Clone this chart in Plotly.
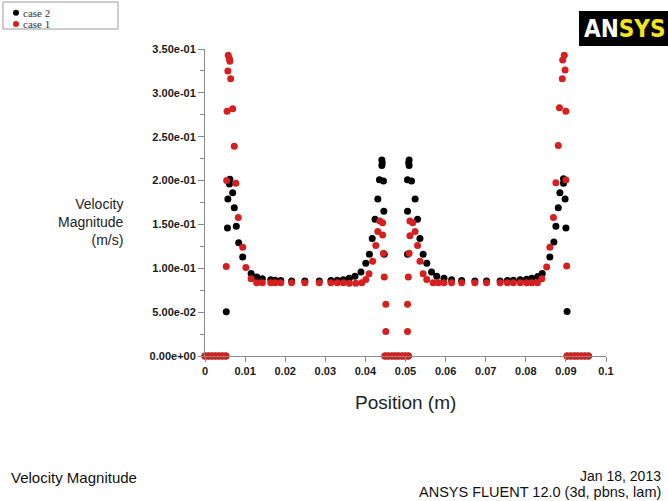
import plotly.graph_objects as go

# ---------------- data ----------------
# case 1 (red)
case1_x = [
    0.0, 0.00087, 0.00173, 0.0026, 0.00347, 0.00433, 0.0052,
    0.0053, 0.0054, 0.0055, 0.0057, 0.0058, 0.0061, 0.0062, 0.0064, 0.0069,
    0.0073, 0.0077, 0.0083, 0.0094, 0.0102, 0.0115, 0.0129, 0.0143,
    0.0164, 0.0175, 0.0189, 0.0216, 0.0249, 0.0285, 0.0314, 0.0330, 0.0345,
    0.0360, 0.0376, 0.0391,
    0.0401, 0.0409, 0.0418, 0.0426, 0.0431, 0.0436, 0.0443, 0.0443, 0.0445,
    0.0447, 0.0451, 0.0451,
    0.0449, 0.0457, 0.0466, 0.0474, 0.0482, 0.0491, 0.0499, 0.0507,
    0.0505, 0.0505, 0.0507, 0.0509, 0.0511, 0.0511, 0.0518, 0.0524, 0.0530,
    0.0536, 0.0544, 0.0553,
    0.0569, 0.0582, 0.0596, 0.0615, 0.0640, 0.0673, 0.0702, 0.0736, 0.0754,
    0.0769, 0.0786, 0.0802, 0.0815, 0.0829,
    0.0840, 0.0852, 0.0860, 0.0869, 0.0875, 0.0881, 0.0884, 0.0891, 0.0892,
    0.0896, 0.0898, 0.0900, 0.0900, 0.0902,
    0.0903, 0.0912, 0.0921, 0.0929, 0.0938, 0.0947, 0.0956,
]
case1_y = [
    0.0, 0.0, 0.0, 0.0, 0.0, 0.0, 0.0,
    0.102, 0.200, 0.279, 0.325, 0.343, 0.339, 0.336, 0.316, 0.282,
    0.239, 0.197, 0.158, 0.124, 0.101, 0.088, 0.0836, 0.0836,
    0.0835, 0.0835, 0.0835, 0.0835, 0.0835, 0.0835, 0.0835, 0.0835, 0.0835,
    0.0830, 0.0830, 0.0835,
    0.0873, 0.0938, 0.108, 0.126, 0.142, 0.154, 0.152, 0.138, 0.117,
    0.090, 0.059, 0.028,
    0.0, 0.0, 0.0, 0.0, 0.0, 0.0, 0.0, 0.0,
    0.028, 0.059, 0.090, 0.117, 0.137, 0.154, 0.152, 0.142, 0.126,
    0.108, 0.0938, 0.0873,
    0.0835, 0.0835, 0.0835, 0.0835, 0.0835, 0.0835, 0.0835, 0.0835, 0.0835,
    0.0835, 0.0835, 0.0835, 0.0835, 0.0836,
    0.088, 0.1015, 0.124, 0.158, 0.1976, 0.240, 0.283, 0.316, 0.3375,
    0.343, 0.326, 0.279, 0.2007, 0.1026,
    0.0, 0.0, 0.0, 0.0, 0.0, 0.0, 0.0,
]

# case 2 (black)
case2_x = [
    0.0, 0.00087, 0.00173, 0.0026, 0.00347, 0.00433, 0.0052,
    0.0053, 0.0056, 0.0057, 0.0061, 0.0062, 0.0069, 0.0073, 0.0078, 0.0084,
    0.0094, 0.0115, 0.0129, 0.0143,
    0.0164, 0.0175, 0.0189, 0.0216, 0.0249, 0.0285, 0.0314, 0.0330, 0.0345,
    0.0360, 0.0374, 0.0389, 0.0401, 0.0410, 0.0417, 0.0424, 0.0431, 0.0435,
    0.0441, 0.0442, 0.0441, 0.0445, 0.0446, 0.0447,
    0.0449, 0.0457, 0.0466, 0.0474, 0.0482, 0.0491, 0.0499, 0.0507,
    0.0509, 0.0508, 0.0509, 0.0505, 0.0515, 0.0524, 0.0505, 0.0530, 0.0536,
    0.0505, 0.0544, 0.0553, 0.0565, 0.0578,
    0.0596, 0.0615, 0.0640, 0.0673, 0.0702, 0.0736, 0.0754, 0.0769, 0.0786,
    0.0802, 0.0815, 0.0830,
    0.0841, 0.0860, 0.0870, 0.0875, 0.0881, 0.0885, 0.0894, 0.0894, 0.0898,
    0.0900, 0.0903,
    0.0903, 0.0912, 0.0921, 0.0929, 0.0938, 0.0947, 0.0956,
]
case2_y = [
    0.0, 0.0, 0.0, 0.0, 0.0, 0.0, 0.0,
    0.0505, 0.146, 0.179, 0.196, 0.2015, 0.186, 0.169, 0.148, 0.129,
    0.113, 0.094, 0.090, 0.088,
    0.087, 0.0865, 0.086, 0.0855, 0.0855, 0.0855, 0.086, 0.0865, 0.087,
    0.0885, 0.091, 0.0957, 0.1056, 0.116, 0.134, 0.156, 0.179, 0.201,
    0.2234, 0.2203, 0.2173, 0.1994, 0.165, 0.116,
    0.0, 0.0, 0.0, 0.0, 0.0, 0.0, 0.0, 0.0,
    0.2234, 0.2203, 0.2173, 0.201, 0.1994, 0.179, 0.165, 0.156, 0.134,
    0.116, 0.116, 0.1056, 0.0957, 0.091,
    0.0885, 0.087, 0.086, 0.0855, 0.0855, 0.0855, 0.086, 0.0865, 0.087,
    0.0875, 0.0886, 0.0905,
    0.094, 0.113, 0.130, 0.148, 0.169, 0.186, 0.202, 0.197, 0.179,
    0.146, 0.0506,
    0.0, 0.0, 0.0, 0.0, 0.0, 0.0, 0.0,
]

series_names = ["case 2", "case 1"]
x_tick_vals = [0, 0.01, 0.02, 0.03, 0.04, 0.05, 0.06, 0.07, 0.08, 0.09, 0.1]
x_tick_text = ["0", "0.01", "0.02", "0.03", "0.04", "0.05", "0.06", "0.07", "0.08", "0.09", "0.1"]
y_tick_vals = [0, 0.05, 0.10, 0.15, 0.20, 0.25, 0.30, 0.35]
y_tick_text = ["0.00e+00", "5.00e-02", "1.00e-01", "1.50e-01", "2.00e-01", "2.50e-01", "3.00e-01", "3.50e-01"]

# ---------------- layout geometry ----------------
W, H = 668, 501
L, R, T, B = 205, 606, 49, 356   # plot area in pixels


def px_x(p):
    return (p - L) / (R - L)


def px_y(p):
    return (B - p) / (B - T)


RED = "#d61f1f"
BLACK = "#000000"
AXIS = "#8a8a8a"
SANS = "Liberation Sans, Arial, sans-serif"
SERIF = "Liberation Serif, Times New Roman, serif"

fig = go.Figure()
fig.add_trace(go.Scatter(x=case2_x, y=case2_y, mode="markers", name=series_names[0],
                         marker=dict(color=BLACK, size=7, line=dict(width=0)),
                         cliponaxis=False, showlegend=False))
fig.add_trace(go.Scatter(x=case1_x, y=case1_y, mode="markers", name=series_names[1],
                         marker=dict(color=RED, size=7, line=dict(width=0)),
                         cliponaxis=False, showlegend=False))

tickfont = dict(family=SANS, size=11, color="#1a1a1a", weight="bold")

fig.update_xaxes(range=[0, 0.1], tickvals=x_tick_vals, ticktext=x_tick_text,
                 showgrid=False, zeroline=False, showline=True, linecolor=AXIS, linewidth=1,
                 ticks="outside", ticklen=5, tickcolor=AXIS, tickfont=tickfont)
fig.update_yaxes(range=[0, 0.35], tickvals=y_tick_vals, ticktext=y_tick_text,
                 showgrid=False, zeroline=False, showline=True, linecolor=AXIS, linewidth=1,
                 ticks="outside", ticklen=6, tickcolor=AXIS, tickfont=tickfont,
                 minor=dict(ticks="outside", ticklen=4, tickcolor=AXIS, dtick=0.025, showgrid=False))

shapes = []
annotations = []

# legend box (manual, top-left)
shapes.append(dict(type="rect", xref="paper", yref="paper",
                   x0=px_x(3), x1=px_x(118), y0=px_y(29), y1=px_y(2),
                   line=dict(color="#9a9a9a", width=1), fillcolor="white", layer="above"))
for name, col, cy in [(series_names[0], BLACK, 12.7), (series_names[1], RED, 24)]:
    shapes.append(dict(type="circle", xref="paper", yref="paper",
                       xsizemode="pixel", ysizemode="pixel",
                       xanchor=px_x(16), yanchor=px_y(cy),
                       x0=-3, x1=3, y0=-3, y1=3,
                       fillcolor=col, line=dict(width=0), layer="above"))
    annotations.append(dict(text=name, xref="paper", yref="paper", x=px_x(22), y=px_y(cy),
                            xanchor="left", yanchor="middle", showarrow=False, borderpad=0,
                            font=dict(family=SERIF, size=11, color="#333333")))

# ANSYS logo (top right)
shapes.append(dict(type="rect", xref="paper", yref="paper",
                   x0=px_x(579), x1=px_x(672), y0=px_y(46), y1=px_y(11),
                   line=dict(width=0), fillcolor="black", layer="above"))
annotations.append(dict(
    text="<b>AN</b><span style='color:#f4e41c'><b>SYS</b></span>",
    xref="paper", yref="paper", x=px_x(582), y=px_y(29), xanchor="left", yanchor="middle",
    showarrow=False, font=dict(family="DejaVu Sans Condensed, Liberation Sans Narrow, sans-serif",
                               size=24, color="white")))

# axis titles
annotations.append(dict(text="Velocity<br>Magnitude<br>(m/s)", xref="paper", yref="paper",
                        x=px_x(126), y=px_y(222), xanchor="right", yanchor="middle", align="right",
                        showarrow=False, font=dict(family=SANS, size=14, color="#222222")))
annotations.append(dict(text="Position (m)", xref="paper", yref="paper",
                        x=px_x(405.5), y=px_y(402), xanchor="center", yanchor="middle",
                        showarrow=False, font=dict(family=SANS, size=19, color="#222222")))

# footer texts
annotations.append(dict(text="Velocity Magnitude", xref="paper", yref="paper",
                        x=px_x(9), y=px_y(477), xanchor="left", yanchor="middle",
                        showarrow=False, font=dict(family=SANS, size=15, color="#111111")))
annotations.append(dict(text="Jan 18, 2013", xref="paper", yref="paper",
                        x=px_x(662), y=px_y(476), xanchor="right", yanchor="middle",
                        showarrow=False, borderpad=0,
                        font=dict(family=SANS, size=14, color="#111111")))
annotations.append(dict(text="ANSYS FLUENT 12.0 (3d, pbns, lam)", xref="paper", yref="paper",
                        x=px_x(662), y=px_y(492), xanchor="right", yanchor="middle",
                        showarrow=False, borderpad=0,
                        font=dict(family=SANS, size=14.5, color="#111111")))

fig.update_layout(width=W, height=H, autosize=False,
                  margin=dict(l=L, r=W - R, t=T, b=H - B, pad=0),
                  paper_bgcolor="white", plot_bgcolor="white",
                  shapes=shapes, annotations=annotations, showlegend=False)

fig.write_html("out.html", config={"displayModeBar": False},
               post_script="document.body.style.margin='0';")
